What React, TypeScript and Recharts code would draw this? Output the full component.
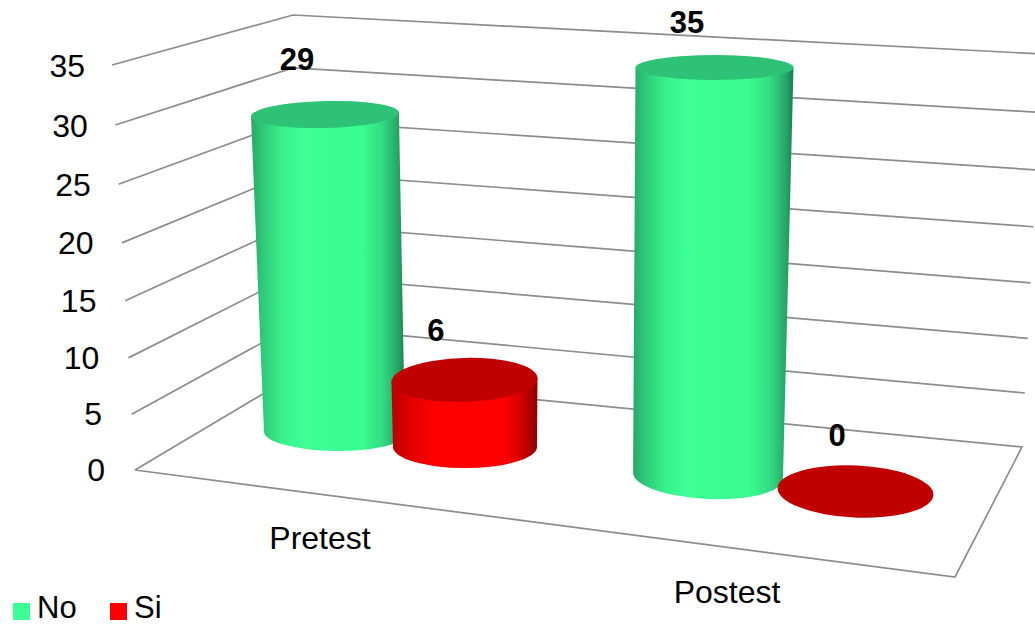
import { Bar, BarChart, CartesianGrid, LabelList, Legend, XAxis, YAxis } from 'recharts';

const FONT = '"Liberation Sans", Arial, sans-serif';
const GRID_COLOR = '#8c8c8c';

const categories = ['Pretest', 'Postest'];
const noValues = [29, 35];
const siValues = [6, 0];
const valueTicks = [0, 5, 10, 15, 20, 25, 30, 35];

const chartData = categories.map((name, i) => ({ name, No: noValues[i], Si: siValues[i] }));

// plot box: top 66, height 404, so the y scale lands on the front-left grid ends
const PLOT_TOP = 66;
const PLOT_H = 404;

type Pt = [number, number];
const lerp = (a: number, b: number, t: number) => a + (b - a) * t;
// the original's perspective spaces the wall lines a bit wider near the top
const bow = (t: number) => 17.6 * t * (1 - t);
const wallPt = (a: [Pt, Pt], t: number, k = 1): Pt => [lerp(a[0][0], a[1][0], t), lerp(a[0][1], a[1][1], t) + k * bow(t)];

// fake 3d box, corners at value 0 and at the axis max
const frontLeft: [Pt, Pt] = [[135, 470], [112, 65]];
const backLeft: [Pt, Pt] = [[293, 376], [293, 15]];
const backRight: [Pt, Pt] = [[1022, 447], [1042, 54]];
const frontRight: Pt = [955, 577];

// ellipse = cx, cy, rx, ry, tilt in degrees
type Ell = [number, number, number, number, number];
interface Cyl { foot: Ell; head: Ell; label: Pt }

const cylinders: Record<string, Cyl[]> = {
  No: [
    { foot: [334.5, 433, 70.5, 18, 1], head: [323, 48.6, 74.7, 12.5, -2], label: [-28, -54.5] },
    { foot: [708, 476, 75, 23, 2.7], head: [714.5, 67.5, 79, 12.5, 0], label: [-27.5, -45.5] },
  ],
  Si: [
    { foot: [465, 447, 72, 21, 0], head: [462, 56, 78, 27, -9], label: [-28.5, -49] },
    { foot: [855.5, 491.5, 78, 26, 2.6], head: [868, 80, 82, 14, 0], label: [-18.5, -56.5] },
  ],
};

const ellipseAt = (c: Cyl, t: number): Ell =>
  c.foot.map((v, i) => lerp(v, c.head[i], t)) as Ell;

const gridLine = (props: any) => {
  const t = 1 - (props.y1 - PLOT_TOP) / PLOT_H;
  const a = wallPt(frontLeft, t);
  const b = wallPt(backLeft, t, 0.6);
  const c = wallPt(backRight, t);
  let d = `M${a[0]},${a[1]}L${b[0]},${b[1]}L${c[0]},${c[1]}`;
  if (t < 0.001) {
    d += `L${frontRight[0]},${frontRight[1]}L${a[0]},${a[1]}`;
  }
  return <path key={props.index} d={d} fill="none" stroke={GRID_COLOR} strokeWidth={1.7} />;
};

const cylinderShape = (series: string, capColor: string) => (props: any) => {
  const c = cylinders[series][props.index];
  const [fx, fy, frx, fry, ft] = c.foot;
  const top = ellipseAt(c, props.height / PLOT_H);
  const [tx, ty, trx, tr, tt] = top;
  const cap = <ellipse cx={tx} cy={ty} rx={trx} ry={tr} fill={capColor} transform={`rotate(${tt} ${tx} ${ty})`} />;
  if (props.height <= 0) {
    return cap;
  }
  const fc = Math.cos((ft * Math.PI) / 180);
  const fs = Math.sin((ft * Math.PI) / 180);
  const tc = Math.cos((tt * Math.PI) / 180);
  const ts = Math.sin((tt * Math.PI) / 180);
  const d =
    `M${tx - trx * tc},${ty - trx * ts}` +
    `L${fx - frx * fc},${fy - frx * fs}` +
    `A${frx},${fry} ${ft} 0 0 ${fx + frx * fc},${fy + frx * fs}` +
    `L${tx + trx * tc},${ty + trx * ts}Z`;
  return (
    <g>
      <path d={d} fill={`url(#side${series})`} />
      {cap}
    </g>
  );
};

const valueLabel = (series: string) => (props: any) => {
  const c = cylinders[series][props.index];
  const h = props.viewBox?.height ?? props.height ?? 0;
  const [tx, ty] = ellipseAt(c, h / PLOT_H);
  return (
    <text
      x={tx + c.label[0]}
      y={ty + c.label[1]}
      textAnchor="middle"
      dominantBaseline="central"
      fontFamily={FONT}
      fontWeight="bold"
      fontSize={31}
      fill="#000"
    >
      {props.value}
    </text>
  );
};

const categorySpots: Pt[] = [[320, 538], [727, 592]];

const CategoryTick = (props: any) => {
  const [x, y] = categorySpots[props.index];
  return (
    <text x={x} y={y} textAnchor="middle" dominantBaseline="central" fontFamily={FONT} fontSize={32} fill="#000">
      {props.payload.value}
    </text>
  );
};

const ValueTick = (props: any) => {
  const v = props.payload.value;
  const t = 1 - (props.y - PLOT_TOP) / PLOT_H;
  return (
    <text x={105 - v * 0.57} y={props.y + bow(t)} textAnchor="end" dominantBaseline="central" fontFamily={FONT} fontSize={32} fill="#000">
      {v}
    </text>
  );
};

const LegendRow = (props: any) => (
  <div style={{ display: 'flex', fontFamily: FONT, fontSize: 31, lineHeight: '30px', color: '#000' }}>
    {(props.payload ?? []).map((p: any) => (
      <div key={p.value} style={{ display: 'flex', alignItems: 'center', width: 97 }}>
        <span style={{ width: 17, height: 17, background: p.color, marginRight: 7, position: 'relative', top: 3 }} />
        <span>{p.value}</span>
      </div>
    ))}
  </div>
);

const App = () => (
  <div style={{ position: 'absolute', left: 0, top: 0, width: 1035, height: 626, background: '#fff', overflow: 'hidden' }}>
    <BarChart width={1035} height={626} data={chartData} margin={{ top: PLOT_TOP, right: 0, left: 0, bottom: 96 }}>
      <defs>
        <linearGradient id="sideNo" x1="0" y1="0" x2="1" y2="0">
          <stop offset="0" stopColor="#27a868" />
          <stop offset="0.08" stopColor="#2fcb7a" />
          <stop offset="0.2" stopColor="#38ef8c" />
          <stop offset="0.33" stopColor="#3cff96" />
          <stop offset="0.72" stopColor="#39fd90" />
          <stop offset="0.85" stopColor="#33dc83" />
          <stop offset="0.95" stopColor="#27a868" />
          <stop offset="1" stopColor="#1c7e50" />
        </linearGradient>
        <linearGradient id="sideSi" x1="0" y1="0" x2="1" y2="0">
          <stop offset="0" stopColor="#b80000" />
          <stop offset="0.1" stopColor="#d80000" />
          <stop offset="0.28" stopColor="#ff0000" />
          <stop offset="0.75" stopColor="#ff0000" />
          <stop offset="0.88" stopColor="#d80000" />
          <stop offset="1" stopColor="#8c0000" />
        </linearGradient>
      </defs>
      <CartesianGrid horizontal={gridLine} vertical={false} />
      <XAxis dataKey="name" height={60} axisLine={false} tickLine={false} tick={CategoryTick} interval={0} />
      <YAxis width={105} domain={[0, 35]} ticks={valueTicks} axisLine={false} tickLine={false} tick={ValueTick} interval={0} />
      <Legend
        layout="vertical"
        align="center"
        verticalAlign="middle"
        content={LegendRow}
        wrapperStyle={{ left: 13, top: 593, width: 240 }}
      />
      <Bar dataKey="No" name="No" fill="#3cff96" isAnimationActive={false} shape={cylinderShape('No', '#2dc275')}>
        <LabelList dataKey="No" content={valueLabel('No')} />
      </Bar>
      <Bar dataKey="Si" name="Si" fill="#ff0000" isAnimationActive={false} shape={cylinderShape('Si', '#c00000')}>
        <LabelList dataKey="Si" content={valueLabel('Si')} />
      </Bar>
    </BarChart>
  </div>
);

export default App;
